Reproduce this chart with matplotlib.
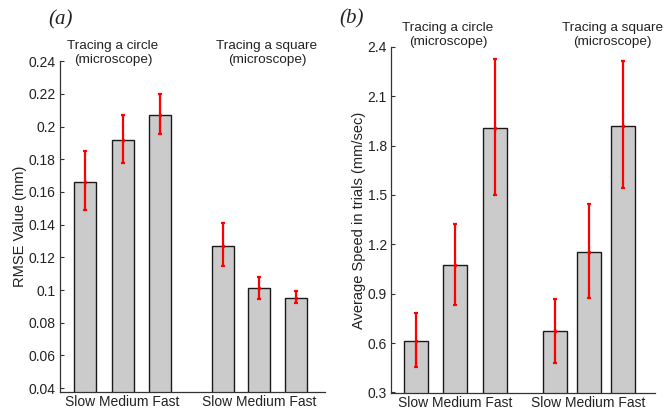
import matplotlib
matplotlib.use("Agg")
import matplotlib.pyplot as plt

plt.rcParams['font.family'] = ['Liberation Sans', 'DejaVu Sans']

speeds = ["Slow", "Medium", "Fast"]
groups = ["Tracing a circle\n(microscope)", "Tracing a square\n(microscope)"]

# RMSE (mm): mean, lower and upper error-bar ends (circle: slow..fast, square: slow..fast)
rmse_mean = [0.166, 0.192, 0.207, 0.127, 0.101, 0.095]
rmse_low = [0.149, 0.178, 0.1955, 0.115, 0.0946, 0.0918]
rmse_high = [0.185, 0.207, 0.220, 0.141, 0.108, 0.0995]

# Average speed (mm/sec): mean, lower and upper error-bar ends
speed_mean = [0.61, 1.073, 1.907, 0.672, 1.156, 1.919]
speed_low = [0.454, 0.834, 1.502, 0.478, 0.874, 1.543]
speed_high = [0.783, 1.322, 2.326, 0.867, 1.448, 2.312]

rmse_ticks = [0.04, 0.06, 0.08, 0.1, 0.12, 0.14, 0.16, 0.18, 0.2, 0.22, 0.24]
rmse_ticklabels = ["0.04", "0.06", "0.08", "0.1", "0.12", "0.14", "0.16", "0.18", "0.2", "0.22", "0.24"]
speed_ticks = [0.3, 0.6, 0.9, 1.2, 1.5, 1.8, 2.1, 2.4]
speed_ticklabels = ["0.3", "0.6", "0.9", "1.2", "1.5", "1.8", "2.1", "2.4"]

fig = plt.figure(figsize=(6.65, 4.12), dpi=100)

ax1 = fig.add_axes([0.0902, 0.0485, 0.3985, 0.803])
ax2 = fig.add_axes([0.588, 0.0454, 0.397, 0.841])


def draw_panel(ax, pos, mean, low, high, width, xlim, ylim, ticks, ticklabels, ylabel):
    ax.bar(pos, mean, width=width, color="#cbcbcb", edgecolor="#1a1a1a", linewidth=1.0, zorder=2)
    err = [[m - l for m, l in zip(mean, low)], [h - m for m, h in zip(mean, high)]]
    ax.errorbar(pos, mean, yerr=err, fmt='.', color="#ff0000", ecolor="#ff0000",
                elinewidth=1.6, capsize=1.5, capthick=1.6, markersize=3, zorder=3)
    ax.set_xlim(*xlim)
    ax.set_ylim(*ylim)
    ax.set_yticks(ticks)
    ax.set_yticklabels(ticklabels)
    # one "Slow Medium Fast" label centred under each group
    group_label = " ".join(speeds)
    ax.set_xticks([pos[1], pos[4]])
    ax.set_xticklabels([group_label, group_label])
    for s in ("top", "right"):
        ax.spines[s].set_visible(False)
    for s in ("left", "bottom"):
        ax.spines[s].set_color("#333333")
        ax.spines[s].set_linewidth(0.9)
    ax.tick_params(axis='y', direction='in', length=3, width=0.8, color="#333333",
                   labelsize=10, pad=3, labelcolor="#222222")
    ax.tick_params(axis='x', length=0, labelsize=10, pad=2, labelcolor="#222222")
    ax.set_ylabel(ylabel, fontsize=10.5, color="#222222", labelpad=1)


draw_panel(ax1, [1, 2, 3, 4.68, 5.64, 6.62], rmse_mean, rmse_low, rmse_high, 0.59,
           (0.33, 7.4), (0.0376, 0.24), rmse_ticks, rmse_ticklabels, "RMSE Value (mm)")
draw_panel(ax2, [1, 2, 3, 4.51, 5.37, 6.25], speed_mean, speed_low, speed_high, 0.61,
           (0.37, 7.05), (0.295, 2.4), speed_ticks, speed_ticklabels,
           "Average Speed in trials (mm/sec)")

# group captions
cap_kw = dict(ha="center", va="center", fontsize=9.7, color="#222222", linespacing=1.25)
fig.text(113 / 665, 1 - 53 / 412, groups[0], **cap_kw)
fig.text(267 / 665, 1 - 53 / 412, groups[1], **cap_kw)
fig.text(448 / 665, 1 - 35 / 412, groups[0], **cap_kw)
fig.text(612 / 665, 1 - 35 / 412, groups[1], **cap_kw)

# panel letters
fig.text(61 / 665, 1 - 20 / 412, "(a)", ha="center", va="center", fontsize=15,
         family="Liberation Serif", style="italic", color="#222222")
fig.text(352 / 665, 1 - 19 / 412, "(b)", ha="center", va="center", fontsize=15,
         family="Liberation Serif", style="italic", color="#222222")

fig.savefig("out.png", dpi=100)
